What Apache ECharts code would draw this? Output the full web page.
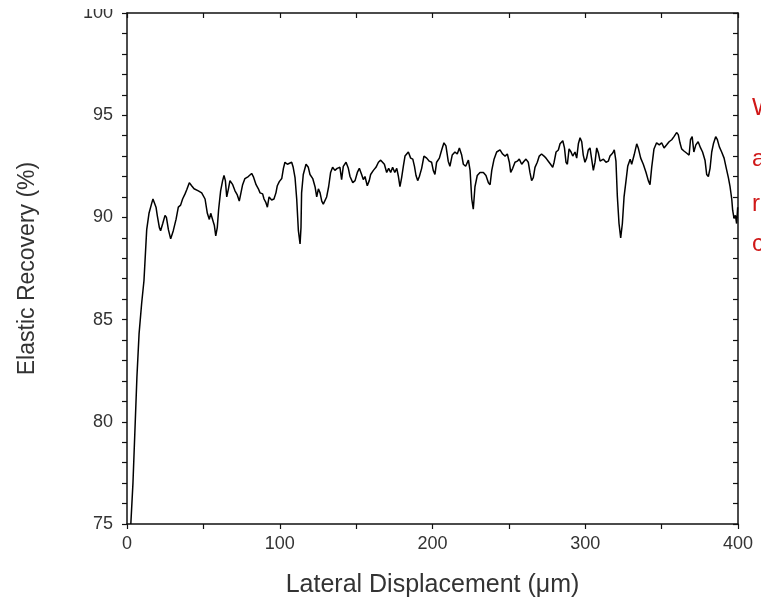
<!DOCTYPE html>
<html>
<head>
<meta charset="utf-8">
<script src="https://cdn.jsdelivr.net/npm/echarts@6/dist/echarts.min.js"></script>
<style>
html,body{margin:0;padding:0;background:#fff;}
#chart{width:761px;height:607px;}
</style>
</head>
<body>
<div id="chart"></div>
<script>
// Lateral displacement (µm)
const displacement = [2.5,3.9,5.2,6.5,7.9,9.6,11.1,12.9,14.4,16.2,17.0,19.0,19.8,21.2,22.0,23.4,24.9,25.8,27.1,28.6,30.3,32.1,33.6,35.1,36.4,38.0,39.1,40.8,42.3,43.9,46.7,48.9,51.1,52.6,53.9,54.8,56.1,57.2,58.1,59.1,60.0,61.3,62.6,63.5,64.4,65.3,66.4,67.4,69.2,70.7,72.2,73.5,74.6,75.7,77.2,79.4,81.6,82.7,84.5,86.0,87.1,88.8,89.7,90.8,91.9,93.0,94.7,96.2,97.5,98.4,99.7,101.3,102.4,103.4,105.0,106.3,107.8,108.8,110.0,111.1,112.2,113.3,113.9,114.3,115.4,117.2,118.7,119.8,121.6,123.1,124.2,125.3,126.4,127.5,128.5,129.6,130.7,132.0,133.3,134.6,136.1,137.6,139.4,140.5,141.6,143.4,144.9,146.0,147.8,149.3,150.8,152.1,153.6,154.7,155.8,157.3,158.6,159.5,161.3,163.0,164.6,166.1,167.4,168.5,170.0,171.3,172.6,173.9,175.3,176.6,177.7,178.7,179.8,180.9,182.0,184.2,185.7,187.1,188.2,189.2,190.3,191.4,192.9,194.4,196.2,197.9,199.4,200.5,201.6,202.7,204.5,206.0,207.5,208.8,210.3,211.4,212.9,214.7,216.2,217.6,219.1,220.2,221.7,223.5,224.6,225.7,226.7,227.8,229.3,231.1,233.3,235.0,236.6,237.7,238.8,240.3,242.0,244.2,245.9,247.5,249.0,250.3,251.2,252.5,254.0,255.5,256.8,258.4,259.9,261.2,262.7,263.8,264.9,266.0,267.1,268.6,269.9,271.4,273.0,274.3,275.8,277.3,278.7,279.6,280.9,282.4,283.5,285.3,286.4,287.4,288.3,289.4,290.7,291.8,293.3,294.4,295.5,296.6,297.7,298.7,299.8,300.9,302.0,303.1,304.2,305.3,306.4,307.5,308.6,309.7,310.8,311.9,313.6,315.1,316.2,318.0,319.0,320.1,321.0,322.1,323.2,324.3,325.4,326.7,327.8,329.4,330.4,332.0,333.7,334.7,336.3,338.0,339.8,341.3,342.4,343.5,345.0,346.7,348.5,350.0,351.6,353.3,354.9,356.6,358.1,359.8,360.9,362.0,363.1,364.6,366.3,368.0,368.9,370.0,371.1,372.4,373.9,375.5,376.8,378.4,379.5,380.6,381.7,382.8,383.9,385.4,386.5,387.8,389.3,390.9,392.2,393.7,394.8,395.9,396.5,397.4,398.3,399.1,399.8];
// Elastic recovery (%)
const recovery = [75.0,77.0,79.6,82.2,84.3,85.8,86.9,89.4,90.2,90.7,90.9,90.5,90.1,89.5,89.35,89.7,90.1,90.0,89.4,88.95,89.35,89.9,90.5,90.6,90.9,91.15,91.35,91.7,91.55,91.4,91.3,91.2,90.9,90.2,89.9,90.2,90.25,89.6,89.1,89.5,90.4,91.3,91.8,92.05,91.8,91.0,91.4,91.8,91.6,91.3,91.1,90.8,91.2,91.6,91.9,92.0,92.15,92.0,91.6,91.4,91.2,91.15,90.9,90.75,90.5,91.0,90.85,90.9,91.2,91.55,91.75,91.9,92.4,92.7,92.6,92.6,92.7,92.45,91.95,90.9,89.35,88.7,89.5,91.2,92.1,92.6,92.45,92.1,91.9,91.5,91.0,91.4,91.2,90.8,90.65,90.7,91.0,91.5,92.2,92.45,92.3,92.4,92.45,91.85,92.5,92.7,92.4,92.0,91.7,91.8,92.2,92.4,92.1,91.85,92.0,91.55,91.8,92.1,92.3,92.45,92.7,92.8,92.85,92.6,92.2,92.4,92.2,92.45,92.2,92.4,92.0,91.5,91.95,92.5,93.0,93.2,92.9,92.85,92.5,92.05,91.8,92.0,92.4,93.0,92.9,92.75,92.7,92.3,92.1,92.7,92.9,93.3,93.65,93.5,92.75,92.5,93.05,93.2,93.1,93.4,93.05,92.6,92.5,92.8,92.3,90.9,90.4,91.5,92.05,92.2,92.2,92.05,91.7,91.6,92.3,92.85,93.2,93.3,93.1,93.0,93.1,92.7,92.2,92.4,92.7,92.75,92.85,92.6,92.75,92.85,92.7,92.2,91.8,91.95,92.45,92.7,93.0,93.1,93.0,92.9,92.75,92.6,92.45,92.7,93.2,93.3,93.6,93.75,93.4,92.7,92.6,93.35,93.2,93.0,93.2,92.9,93.6,93.9,93.7,93.05,92.7,92.9,93.3,93.4,92.85,92.3,92.7,93.4,93.15,92.75,92.7,92.85,92.7,92.75,93.0,93.15,93.3,92.75,91.05,89.7,89.0,89.7,91.0,91.8,92.5,92.85,92.6,93.05,93.6,93.4,92.9,92.6,92.2,91.8,91.6,92.45,93.35,93.65,93.55,93.65,93.4,93.55,93.7,93.8,93.95,94.15,94.05,93.65,93.35,93.25,93.15,93.05,93.8,93.95,93.2,93.55,93.7,93.4,93.2,92.8,92.1,92.0,92.4,93.2,93.6,93.95,93.8,93.45,93.2,92.9,92.45,91.95,91.5,90.9,90.35,89.95,90.1,89.7,90.5];
const xTicks = [0, 100, 200, 300, 400];
const yTicks = [75, 80, 85, 90, 95, 100];
const xTitle = 'Lateral Displacement (μm)';
const yTitle = 'Elastic Recovery (%)';
const sideNotes = ['We', 'ar', 'ro', 'co'];

const FONT = 'Liberation Sans, Arial, sans-serif';
const INK = '#111';
const axisLine = {show: true, onZero: false, lineStyle: {color: INK, width: 1.5}};

const chart = echarts.init(document.getElementById('chart'), null, {renderer: 'canvas'});
const option = {
  backgroundColor: '#fff',
  animation: false,
  grid: {left: 127, right: 23, top: 13, bottom: 83, containLabel: false},
  xAxis: [{
    type: 'value', position: 'bottom',
    min: xTicks[0], max: xTicks[xTicks.length - 1], interval: 100,
    name: xTitle, nameLocation: 'middle', nameGap: 49,
    nameTextStyle: {fontFamily: FONT, fontSize: 25, color: '#333'},
    axisLine: axisLine,
    axisTick: {show: true, inside: false, length: 5, lineStyle: {color: INK, width: 1.2}},
    minorTick: {show: true, splitNumber: 2, length: 5, lineStyle: {color: INK, width: 1.2}},
    axisLabel: {fontFamily: FONT, fontSize: 18, color: '#333', margin: 11},
    splitLine: {show: false}
  }, {
    type: 'value', position: 'top',
    min: xTicks[0], max: xTicks[xTicks.length - 1], interval: 100,
    axisLine: axisLine,
    axisTick: {show: true, inside: true, length: 5, lineStyle: {color: INK, width: 1.2}},
    minorTick: {show: true, splitNumber: 2, length: 5, lineStyle: {color: INK, width: 1.2}},
    axisLabel: {show: false},
    splitLine: {show: false}
  }],
  yAxis: [{
    type: 'value', position: 'left',
    min: yTicks[0], max: yTicks[yTicks.length - 1], interval: 5,
    name: yTitle, nameLocation: 'middle', nameGap: 88, nameRotate: 90,
    nameTextStyle: {fontFamily: FONT, fontSize: 23, color: '#333'},
    axisLine: axisLine,
    axisTick: {show: true, inside: false, length: 5, lineStyle: {color: INK, width: 1.2}},
    minorTick: {show: true, splitNumber: 5, length: 5, lineStyle: {color: INK, width: 1.2}},
    axisLabel: {fontFamily: FONT, fontSize: 18, color: '#333', margin: 14},
    splitLine: {show: false}
  }, {
    type: 'value', position: 'right',
    min: yTicks[0], max: yTicks[yTicks.length - 1], interval: 5,
    axisLine: axisLine,
    axisTick: {show: true, inside: true, length: 5, lineStyle: {color: INK, width: 1.2}},
    minorTick: {show: true, splitNumber: 5, length: 5, lineStyle: {color: INK, width: 1.2}},
    axisLabel: {show: false},
    splitLine: {show: false}
  }],
  series: [{
    type: 'line',
    xAxisIndex: 0, yAxisIndex: 0,
    data: displacement.map((x, i) => [x, recovery[i]]),
    showSymbol: false,
    clip: true,
    lineStyle: {color: '#000', width: 1.5},
    z: 3
  }],
  graphic: [
    {type: 'rect', left: 55, top: 0, shape: {width: 65, height: 9}, style: {fill: '#fff'}, z: 100}
  ].concat(sideNotes.map((t, i) => ({
    type: 'text', left: 752, top: [96, 147, 192, 232][i],
    style: {text: t, fontFamily: FONT, fontSize: 24, fill: '#d01818'}, z: 100
  })))
};
chart.setOption(option);
</script>
</body>
</html>
